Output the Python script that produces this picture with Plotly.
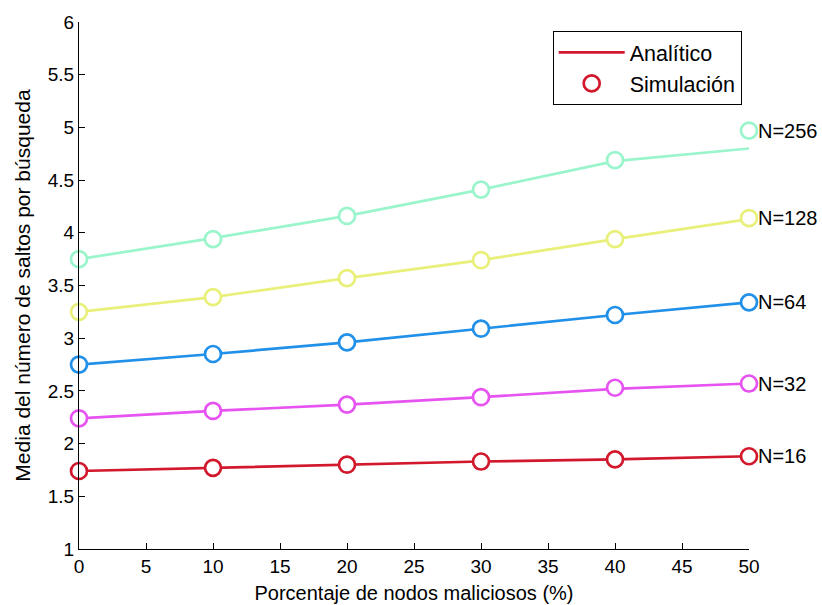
import plotly.graph_objects as go

# Percentage of malicious nodes
x_pct = [0, 10, 20, 30, 40, 50]

# Network sizes and their colours
labels = ["N=16", "N=32", "N=64", "N=128", "N=256"]
colors = ["#d2182c", "#e653f0", "#2190e8", "#e8f07a", "#9af5cc"]

# Analytical mean number of hops per lookup
analytic = [
    [1.74, 1.77, 1.80, 1.83, 1.85, 1.88],
    [2.24, 2.31, 2.37, 2.44, 2.52, 2.57],
    [2.75, 2.85, 2.96, 3.09, 3.22, 3.34],
    [3.25, 3.39, 3.57, 3.74, 3.94, 4.13],
    [3.75, 3.95, 4.16, 4.41, 4.68, 4.80],
]

# Simulated mean number of hops per lookup
simulated = [
    [1.74, 1.77, 1.80, 1.83, 1.85, 1.88],
    [2.24, 2.31, 2.37, 2.44, 2.53, 2.57],
    [2.75, 2.85, 2.96, 3.09, 3.22, 3.34],
    [3.25, 3.39, 3.57, 3.74, 3.94, 4.14],
    [3.75, 3.94, 4.16, 4.41, 4.69, 4.97],
]

FONT = "Arial, Liberation Sans, sans-serif"

fig = go.Figure()

for i, (lab, col) in enumerate(zip(labels, colors)):
    fig.add_trace(go.Scatter(
        x=x_pct, y=analytic[i], mode="lines",
        line=dict(color=col, width=2.7),
        name="Analítico", showlegend=(i == 0), legendrank=1,
        cliponaxis=False,
    ))
for i, (lab, col) in enumerate(zip(labels, colors)):
    fig.add_trace(go.Scatter(
        x=x_pct, y=simulated[i], mode="markers",
        marker=dict(symbol="circle", size=16, color="white",
                    line=dict(color=col, width=2.7)),
        name="Simulación", showlegend=(i == 0), legendrank=2,
        cliponaxis=False,
    ))
    fig.add_annotation(
        x=x_pct[-1], y=simulated[i][-1], text=lab, showarrow=False,
        xanchor="left", yanchor="middle", xshift=7,
        font=dict(family=FONT, size=20, color="black"),
    )

fig.update_layout(
    width=822, height=605,
    margin=dict(l=79, r=73, t=22, b=56),
    paper_bgcolor="white", plot_bgcolor="white",
    font=dict(family=FONT, size=19, color="black"),
    showlegend=True,
    legend=dict(
        x=0.707, y=0.983, xanchor="left", yanchor="top",
        bordercolor="black", borderwidth=1, bgcolor="white",
        font=dict(family=FONT, size=21.5, color="black"),
        itemwidth=66, tracegroupgap=2,
    ),
)

fig.update_xaxes(
    range=[0, 50], tickvals=list(range(0, 55, 5)),
    tickfont=dict(family=FONT, size=19), automargin=False,
    showline=True, linecolor="black", linewidth=1, mirror=False,
    ticks="inside", ticklen=6, tickcolor="black",
    showgrid=False, zeroline=False,
    title=dict(text="Porcentaje de nodos maliciosos (%)", standoff=10,
               font=dict(family=FONT, size=20)),
)
fig.update_yaxes(
    range=[1, 6], tickvals=[1, 1.5, 2, 2.5, 3, 3.5, 4, 4.5, 5, 5.5, 6],
    ticktext=["1", "1.5", "2", "2.5", "3", "3.5", "4", "4.5", "5", "5.5", "6"],
    tickfont=dict(family=FONT, size=19), automargin=False,
    showline=True, linecolor="black", linewidth=1, mirror=False,
    ticks="inside", ticklen=6, tickcolor="black",
    showgrid=False, zeroline=False,
    title=dict(text="Media del número de saltos por búsqueda", standoff=11,
               font=dict(family=FONT, size=21)),
)

fig.write_html("out.html")
